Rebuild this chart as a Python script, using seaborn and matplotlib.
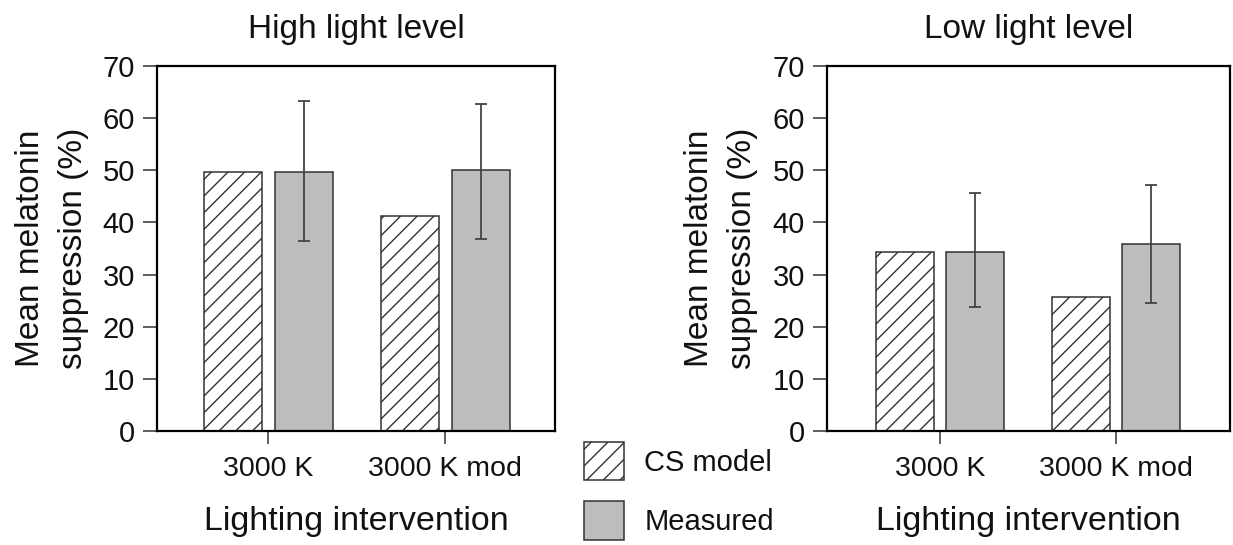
import matplotlib
matplotlib.use("Agg")
import matplotlib.pyplot as plt
from matplotlib.patches import Patch
import numpy as np
import pandas as pd
import seaborn as sns

# ---- data ----
interventions = ["3000 K", "3000 K mod"]
sources = ["CS model", "Measured"]
panels = ["High light level", "Low light level"]

high_cs = [49.6, 41.2]
high_measured = [49.6, 50.1]
high_err_low = [36.4, 36.9]
high_err_high = [63.2, 62.8]

low_cs = [34.4, 25.7]
low_measured = [34.4, 35.9]
low_err_low = [23.7, 24.6]
low_err_high = [45.6, 47.1]

yticks = [0, 10, 20, 30, 40, 50, 60, 70]

sns.set_style("white")
plt.rcParams["font.family"] = ["Liberation Sans", "DejaVu Sans"]
plt.rcParams["hatch.linewidth"] = 1.0
plt.rcParams["text.color"] = "#111111"
plt.rcParams["axes.labelcolor"] = "#111111"
plt.rcParams["xtick.color"] = "#111111"
plt.rcParams["ytick.color"] = "#111111"

W, H = 1233, 545
fig = plt.figure(figsize=(W / 100, H / 100), dpi=100)

edge = "#333333"
grey = "#bdbdbd"

def px_axes(x0, x1, y0, y1):
    return fig.add_axes([x0 / W, 1 - y1 / H, (x1 - x0) / W, (y1 - y0) / H])

ax1 = px_axes(157, 555, 66, 431)
ax2 = px_axes(827, 1230, 66, 431)

panel_data = [
    (ax1, panels[0], high_cs, high_measured, high_err_low, high_err_high, (-0.63, 1.62), -0.172),
    (ax2, panels[1], low_cs, low_measured, low_err_low, low_err_high, (-0.642, 1.648), -0.171),
]

for i, (ax, title, cs, meas, elo, ehi, xlim, ylx) in enumerate(panel_data):
    df = pd.DataFrame({
        "intervention": interventions * 2,
        "source": [sources[0]] * 2 + [sources[1]] * 2,
        "value": list(cs) + list(meas),
    })
    sns.barplot(data=df, x="intervention", y="value", hue="source",
                hue_order=sources, order=interventions,
                palette={sources[0]: "white", sources[1]: grey},
                saturation=1, width=0.8, gap=0.18, errorbar=None,
                edgecolor=edge, linewidth=1.1, legend=False, ax=ax)
    for bar in ax.containers[0]:
        bar.set_hatch("//")
        bar.set_edgecolor(edge)
    xs = [b.get_x() + b.get_width() / 2 for b in ax.containers[1]]
    m = np.array(meas)
    yerr = [m - np.array(elo), np.array(ehi) - m]
    ax.errorbar(xs, m, yerr=yerr, fmt="none", ecolor="#444444",
                elinewidth=1.3, capsize=4.3, capthick=1.3, zorder=5)
    ax.set_xlim(*xlim)
    ax.set_ylim(0, 70)
    ax.set_yticks(yticks)
    ax.set_title(title, fontsize=24, pad=20)
    ax.set_xlabel("Lighting intervention", fontsize=24.5, labelpad=17)
    ax.set_ylabel("Mean melatonin\nsuppression (%)", fontsize=24,
                  linespacing=1.5)
    ax.yaxis.set_label_coords(ylx, 0.5)
    ax.tick_params(axis="y", left=True, direction="out", length=10,
                   width=1.1, color="#333333", labelsize=21, pad=6)
    ax.tick_params(axis="x", bottom=True, direction="out", length=9,
                   width=1.1, color="#333333", labelsize=20.5, pad=9)
    for s in ax.spines.values():
        s.set_visible(True)
        s.set_linewidth(1.6)
        s.set_color("black")

handles = [
    Patch(facecolor="white", edgecolor=edge, hatch="//", linewidth=1.1),
    Patch(facecolor=grey, edgecolor=edge, linewidth=1.1),
]
fig.legend(handles, sources, loc="upper left",
           bbox_to_anchor=(584 / W, 1 - 442 / H), frameon=False,
           fontsize=21, handlelength=1.37, handleheight=1.65,
           handletextpad=0.7, labelspacing=0.72, borderpad=0,
           borderaxespad=0)

fig.savefig("out.png", dpi=100)
